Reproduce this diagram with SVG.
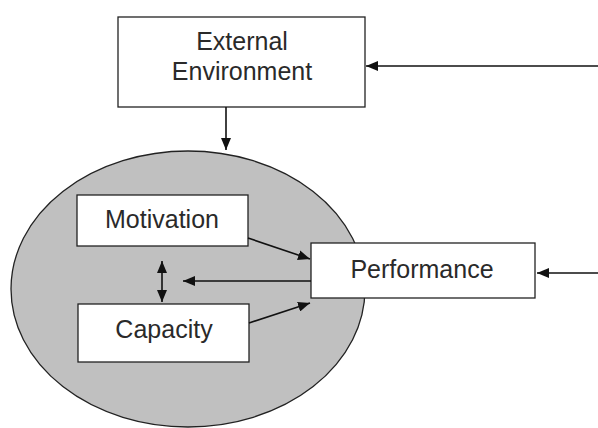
<svg xmlns="http://www.w3.org/2000/svg" width="598" height="428" viewBox="0 0 598 428">
  <defs>
    <style>
      .box { fill: #ffffff; stroke: #222222; stroke-width: 1.3; }
      .lbl { font-family: "Liberation Sans", Arial, sans-serif; font-size: 25px; fill: #2a2a2a; text-anchor: middle; }
      .conn { stroke: #111111; stroke-width: 1.6; fill: none; }
    </style>
    <marker id="head" viewBox="0 0 12 10" refX="12" refY="5" markerWidth="12" markerHeight="10" markerUnits="userSpaceOnUse" orient="auto-start-reverse">
      <path d="M0,0 L12,5 L0,10 z" fill="#111111"/>
    </marker>
  </defs>
  <rect width="598" height="428" fill="#ffffff"/>

  <!-- organisation -->
  <g id="organisation">
    <ellipse cx="188" cy="289" rx="177" ry="138" fill="#c0c0c0" stroke="#222222" stroke-width="1.3"/>
  </g>

  <g id="external-environment">
    <rect class="box" x="118" y="17" width="247" height="90"/>
    <text class="lbl" x="242" y="50">External</text>
    <text class="lbl" x="242" y="80">Environment</text>
  </g>

  <g id="motivation">
    <rect class="box" x="77" y="195" width="171" height="51"/>
    <text class="lbl" x="162" y="228">Motivation</text>
  </g>

  <g id="capacity">
    <rect class="box" x="78" y="304" width="171" height="58"/>
    <text class="lbl" x="164" y="338">Capacity</text>
  </g>

  <g id="performance">
    <rect class="box" x="311" y="243" width="224" height="55"/>
    <text class="lbl" x="422" y="278">Performance</text>
  </g>

  <g id="connectors">
    <line class="conn" x1="226" y1="107" x2="226" y2="150" marker-end="url(#head)"/>
    <line class="conn" x1="598" y1="66" x2="366" y2="66" marker-end="url(#head)"/>
    <line class="conn" x1="598" y1="273" x2="537" y2="273" marker-end="url(#head)"/>
    <line class="conn" x1="248" y1="238" x2="310" y2="259" marker-end="url(#head)"/>
    <line class="conn" x1="249" y1="323" x2="310" y2="303" marker-end="url(#head)"/>
    <line class="conn" x1="311" y1="281" x2="183" y2="281" marker-end="url(#head)"/>
    <line class="conn" x1="162" y1="261" x2="162" y2="302" marker-start="url(#head)" marker-end="url(#head)"/>
  </g>
</svg>
